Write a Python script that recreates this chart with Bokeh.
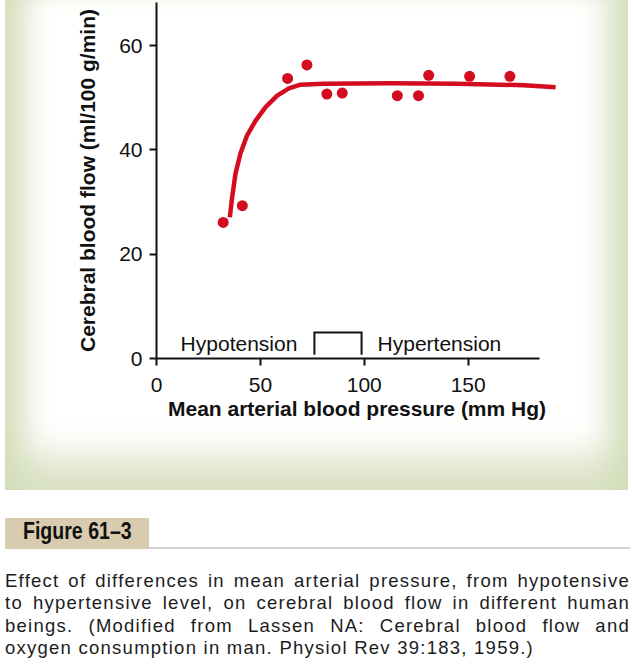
from bokeh.plotting import figure
from bokeh.models import Div, FixedTicker
from bokeh.layouts import column
from bokeh.core.properties import value
from bokeh.embed import file_html
from bokeh.resources import INLINE

# ---- data ----
pressure_pts = [32.1, 41.3, 63.1, 72.4, 82.0, 89.4, 115.9, 126.1, 131.0, 150.7, 170.1]
flow_pts = [26.1, 29.3, 53.7, 56.3, 50.7, 50.9, 50.4, 50.4, 54.3, 54.1, 54.1]

curve_x = [35.3, 36.4, 38.0, 40.4, 43.6, 47.7, 52.5, 58.1, 63.7, 69.3, 80.5, 112.7, 144.8, 176.8, 192.1]
curve_y = [27.1, 30.9, 35.4, 39.3, 42.8, 45.6, 48.2, 50.4, 51.8, 52.5, 52.7, 52.8, 52.7, 52.4, 52.0]

x_ticks = [0, 50, 100, 150]
y_ticks = [0, 20, 40, 60]

region_labels = ["Hypotension", "Hypertension"]
region_label_x = [11.6, 106.4]
region_label_y = [2.9, 2.9]
bracket_x = [76.0, 76.0, 98.7, 98.7]
bracket_y = [0.7, 5.0, 5.0, 0.7]

x_label = "Mean arterial blood pressure (mm Hg)"
y_label = "Cerebral blood flow (ml/100 g/min)"
fig_label = "Figure 61\u20133"
caption_lines = [
    "Effect of differences in mean arterial pressure, from hypotensive",
    "to hypertensive level, on cerebral blood flow in different human",
    "beings. (Modified from Lassen NA: Cerebral blood flow and",
    "oxygen consumption in man. Physiol Rev 39:183, 1959.)",
]

RED = "#d40c20"
INK = "#111111"
FONT = "Liberation Sans"
GREEN = "#d3ddb9"

p = figure(width=633, height=490, x_range=(0, 193), y_range=(0, 68.26),
           output_backend="svg", toolbar_location=None,
           min_border_left=156, min_border_right=76, min_border_top=2,
           min_border_bottom=132)
p.border_fill_color = None
p.background_fill_color = None
p.outline_line_color = None
p.grid.visible = False
p.styles = {
    "background-color": "#ffffff",
    "box-shadow": (
        "inset 5px 0 0 0 #ffffff, inset -5px 0 0 0 #ffffff, "
        f"inset 42px 0 30px -18px {GREEN}, inset -42px 0 30px -18px {GREEN}, "
        "inset 0 -52px 38px -18px #dbe2c6"
    ),
}

p.xaxis.ticker = FixedTicker(ticks=x_ticks)
p.yaxis.ticker = FixedTicker(ticks=y_ticks)
p.xaxis.bounds = (0, 184.5)
p.xaxis.axis_label = x_label
p.yaxis.axis_label = y_label
for ax in (p.xaxis, p.yaxis):
    ax.axis_line_width = 2
    ax.axis_line_color = INK
    ax.major_tick_line_width = 2
    ax.major_tick_line_color = INK
    ax.major_tick_out = 7
    ax.major_tick_in = 0
    ax.minor_tick_line_color = None
    ax.major_label_text_font = FONT
    ax.major_label_text_font_size = "21px"
    ax.major_label_text_color = INK
    ax.axis_label_text_font = FONT
    ax.axis_label_text_font_style = "bold"
    ax.axis_label_text_font_size = "21px"
    ax.axis_label_text_color = INK
p.xaxis.major_label_standoff = 12
p.yaxis.major_label_standoff = 7
p.xaxis.axis_label_standoff = 2
p.yaxis.axis_label_standoff = 17

p.line(curve_x, curve_y, line_width=4.5, color=RED, line_cap="butt", line_join="round")
p.scatter(pressure_pts, flow_pts, size=11, fill_color=RED, line_color=None)

p.line(bracket_x, bracket_y, line_width=2, color=INK, line_join="miter")
p.text(x=region_label_x, y=region_label_y, text=region_labels,
       text_font=value(FONT), text_font_size="21px", text_color=INK,
       text_baseline="middle", text_align="left")

cap_font = "'Liberation Sans', Arial, sans-serif"
lines_html = ""
for i, ln in enumerate(caption_lines):
    last = i == len(caption_lines) - 1
    align = "text-align:left;" if last else "text-align:justify;text-align-last:justify;"
    lines_html += f"<div style=\"{align}white-space:normal;\">{ln}</div>"

html = (
    "<div style=\"width:625px;\">"
    "<div style=\"height:23px\"></div>"
    "<div style=\"height:31px;border-bottom:2px solid #d0d0d0;\">"
    "<div style=\"width:144px;height:31px;background:#d8cbaf;overflow:hidden;\">"
    f"<span style=\"display:inline-block;margin-left:18px;font-family:{cap_font};font-weight:bold;"
    "font-size:23px;line-height:27px;color:#111;transform:scaleX(0.85);transform-origin:left center;"
    f"white-space:nowrap;\">{fig_label}</span></div></div>"
    f"<div style=\"margin-top:21px;font-family:{cap_font};font-size:18.5px;line-height:22.4px;"
    f"letter-spacing:1.25px;color:#1c1c1c;\">{lines_html}</div></div>"
)
d = Div(text=html, width=633, height=175, styles={"overflow": "hidden"})

layout = column(p, d, spacing=0)
open("out.html", "w").write(file_html(layout, INLINE))
